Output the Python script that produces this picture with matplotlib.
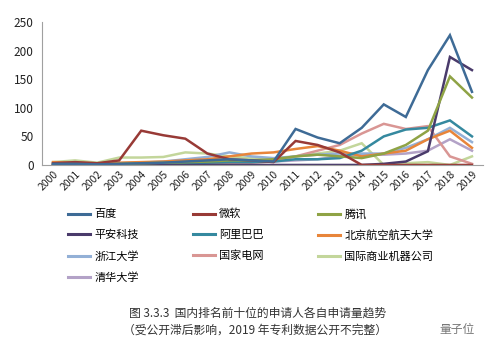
import numpy as np
import matplotlib.pyplot as plt
from matplotlib.lines import Line2D

plt.rcParams['font.family'] = ['Noto Sans CJK SC', 'DejaVu Sans']

# =============================================================================
# DATA
# =============================================================================
years = list(range(2000, 2020))

names = ['百度', '微软', '腾讯', '平安科技', '阿里巴巴', '北京航空航天大学',
         '浙江大学', '国家电网', '国际商业机器公司', '清华大学']

baidu   = [2, 2, 1, 2, 3, 4, 6, 8, 10, 8, 6, 63, 48, 38, 65, 106, 84, 166, 227, 128]
msft    = [3, 5, 3, 8, 60, 52, 46, 20, 10, 8, 5, 42, 35, 22, 0, 0, 0, 0, 0, 0]
tencent = [0, 1, 1, 2, 3, 4, 5, 6, 8, 8, 10, 15, 18, 15, 12, 20, 35, 60, 155, 118]
pingan  = [0, 0, 0, 0, 0, 0, 0, 0, 0, 0, 0, 0, 0, 0, 0, 2, 6, 24, 189, 166]
alibaba = [0, 0, 0, 0, 1, 2, 3, 4, 5, 5, 6, 10, 10, 12, 25, 50, 62, 65, 78, 50]
buaa    = [5, 4, 3, 4, 5, 6, 8, 10, 15, 20, 22, 28, 33, 25, 15, 20, 25, 45, 60, 30]
zju     = [2, 2, 2, 3, 4, 6, 10, 14, 22, 15, 12, 15, 18, 20, 20, 20, 30, 45, 65, 40]
sgcc    = [0, 0, 0, 0, 0, 1, 1, 2, 3, 4, 6, 15, 25, 35, 55, 72, 63, 68, 15, 2]
ibm     = [5, 8, 4, 13, 13, 14, 22, 20, 15, 12, 10, 15, 20, 25, 38, 0, 3, 5, 0, 15]
tsinghua = [1, 1, 1, 2, 2, 3, 4, 5, 6, 6, 6, 8, 10, 15, 18, 18, 20, 25, 45, 25]

series = [baidu, msft, tencent, pingan, alibaba, buaa, zju, sgcc, ibm, tsinghua]
colors = ['#3e6b96', '#983a36', '#8fa345', '#4a3b6b', '#35899f', '#e8853a',
          '#93b0d6', '#d99694', '#c3d69b', '#b3a2c7']

caption1 = '图 3.3.3  国内排名前十位的申请人各自申请量趋势'
caption2 = '（受公开滞后影响，2019 年专利数据公开不完整）'

# =============================================================================
# PLOT
# =============================================================================
fig = plt.figure(figsize=(5.0, 3.51), dpi=100)
ax = fig.add_axes([0.084, 0.53, 0.882, 0.407])

# draw in reverse so the big series sit on top
for vals, col in reversed(list(zip(series, colors))):
    ax.plot(years, vals, color=col, lw=1.8, solid_joinstyle='miter')

ax.set_xlim(1999.5, 2019.5)
ax.set_ylim(0, 250)
ax.set_yticks([0, 50, 100, 150, 200, 250])
ax.set_xticks(years)
ax.set_xticklabels([str(y) for y in years], rotation=45, ha='right',
                   rotation_mode='anchor', fontsize=7.5, color='#222222')
ax.tick_params(axis='y', labelsize=8.5, colors='#222222', length=0, pad=6)
ax.tick_params(axis='x', length=0, pad=3)
for s in ['top', 'right']:
    ax.spines[s].set_visible(False)
ax.spines['left'].set_color('#a0a0a0')
ax.spines['bottom'].set_color('#a0a0a0')

# legend: rows read 百度/微软/腾讯 ... (matplotlib fills column-wise)
order = [0, 3, 6, 9, 1, 4, 7, 2, 5, 8]
handles = [Line2D([], [], color=colors[i], lw=2.2) for i in order]
labels = [names[i] for i in order]
fig.legend(handles, labels, ncol=3, loc='upper left',
           bbox_to_anchor=(0.125, 0.421), frameon=False, fontsize=8,
           handlelength=2.0, handletextpad=0.35, columnspacing=4.9,
           labelspacing=0.95, borderpad=0)

fig.text(0.515, 0.108, caption1, ha='center', va='center', fontsize=8.5,
         color='#333333')
fig.text(0.51, 0.06, caption2, ha='center', va='center', fontsize=8.5,
         color='#333333')
fig.text(0.915, 0.06, '量子位', ha='center', va='center', fontsize=8.5,
         color='#777777')

fig.savefig('out.png', dpi=100, facecolor='white')
